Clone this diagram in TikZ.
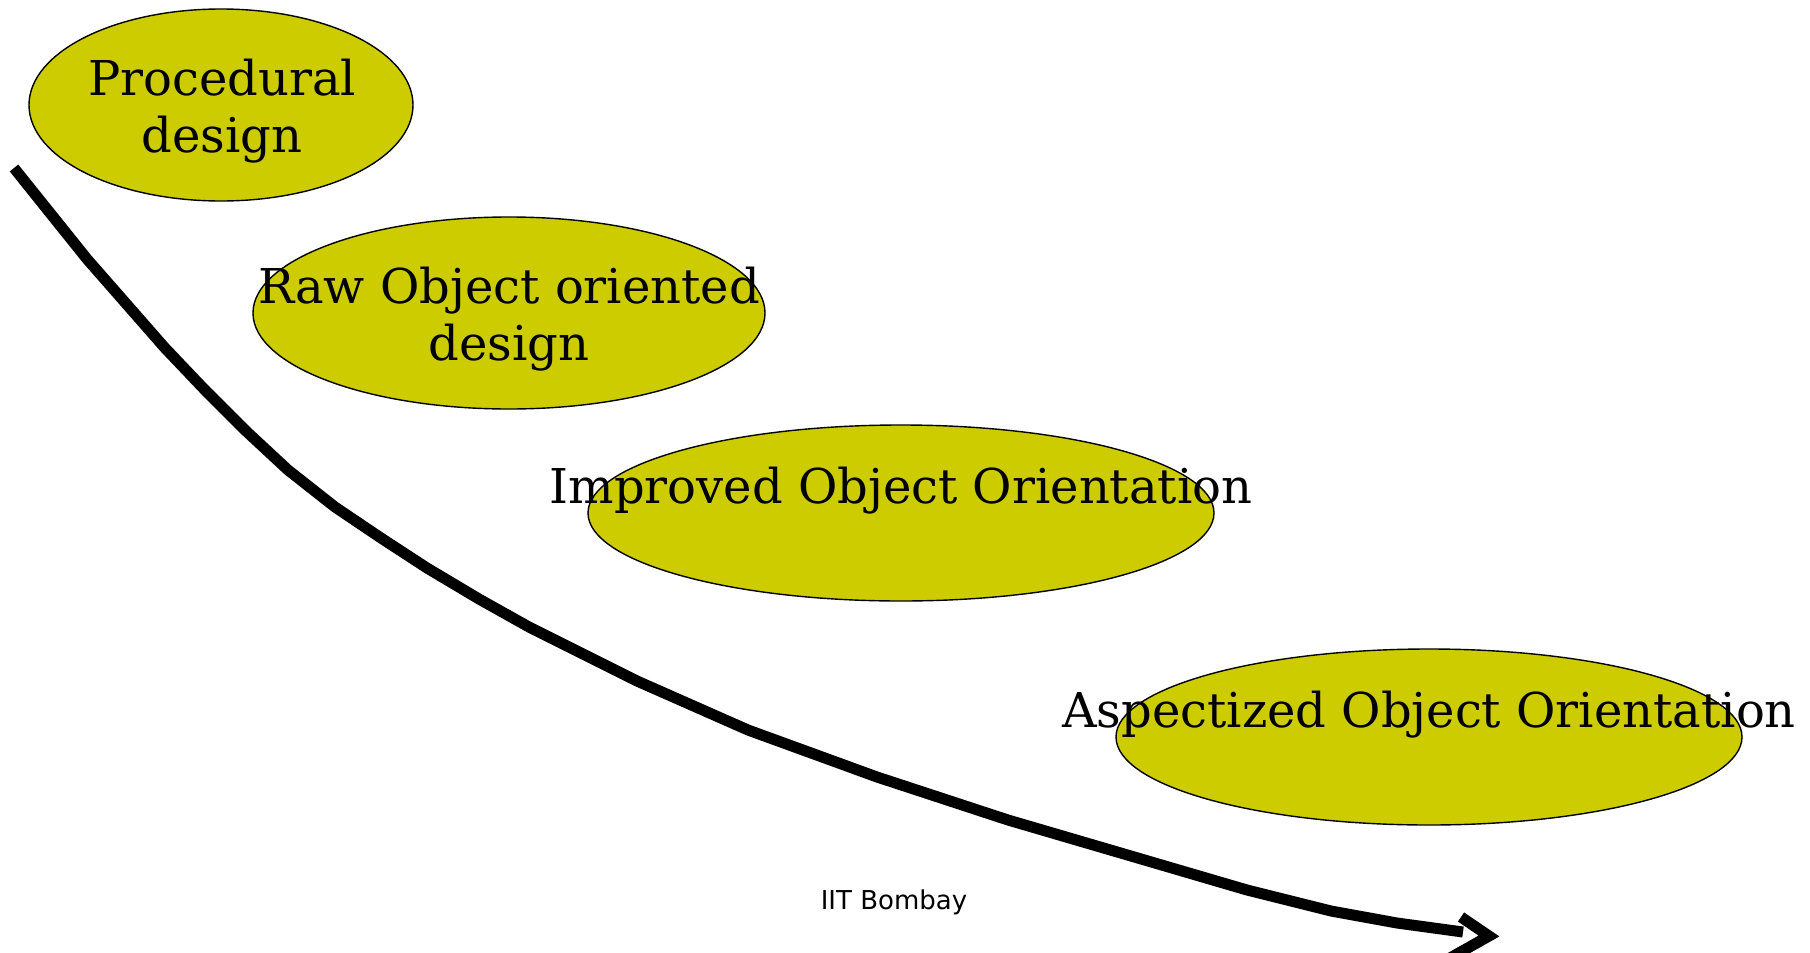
\documentclass[tikz,border=0pt]{standalone}
\usepackage{fontspec}
\setmainfont{DejaVu Serif}
\newfontfamily\labelsans{DejaVu Sans}
\usetikzlibrary{shapes.geometric}
\definecolor{olive}{HTML}{CCCC00}
\tikzset{
  stage/.style={ellipse, draw=black, line width=0.7pt, fill=olive, inner sep=0pt, outer sep=0pt},
  stagetext/.style={font=\fontsize{24pt}{28.5pt}\selectfont, align=center, inner sep=0pt, anchor=base},
  trend/.style={line width=5.5pt, line join=miter, line cap=butt},
}
\begin{document}
\begin{tikzpicture}[x=0.5pt,y=-0.5pt]
\useasboundingbox (0,0) rectangle (1810,953);
% ellipses
\node[stage, minimum width=192pt, minimum height=96pt] (e1) at (221,105) {};
\node[stage, minimum width=256pt, minimum height=96pt] (e2) at (509,313) {};
\node[stage, minimum width=313pt, minimum height=88pt] (e3) at (901,513) {};
\node[stage, minimum width=313pt, minimum height=88pt] (e4) at (1429,737) {};
% texts (base anchor = baseline of last line)
\node[stagetext] (t1) at (222,152) {Procedural\\design};
\node[stagetext] (t2) at (509,360) {Raw Object oriented\\design};
\node[stagetext] (t3) at (901,503) {Improved Object Orientation};
\node[stagetext] (t4) at (1429,727) {Aspectized Object Orientation};
\node[font=\labelsans\fontsize{13pt}{15pt}\selectfont, inner sep=0pt, anchor=base] (iit) at (894,909) {IIT Bombay};
% trend curve
\coordinate (c0) at (14,168);
\coordinate (cend) at (1463,932);
\draw[trend] (c0) -- (87,259) -- (165,348) -- (204,389) -- (246,431) -- (288,470)
  -- (335,507) -- (381,538) -- (427,568) -- (479,599) -- (529,627) -- (637,681)
  -- (748,730) -- (877,777) -- (1008,820) -- (1247,890) -- (1331,911)
  -- (1397,923) -- (cend);
% open arrowhead
\coordinate (tip) at (1489,936);
\draw[trend] (1461,917) -- (tip) -- (1450,958);
\end{tikzpicture}
\end{document}
